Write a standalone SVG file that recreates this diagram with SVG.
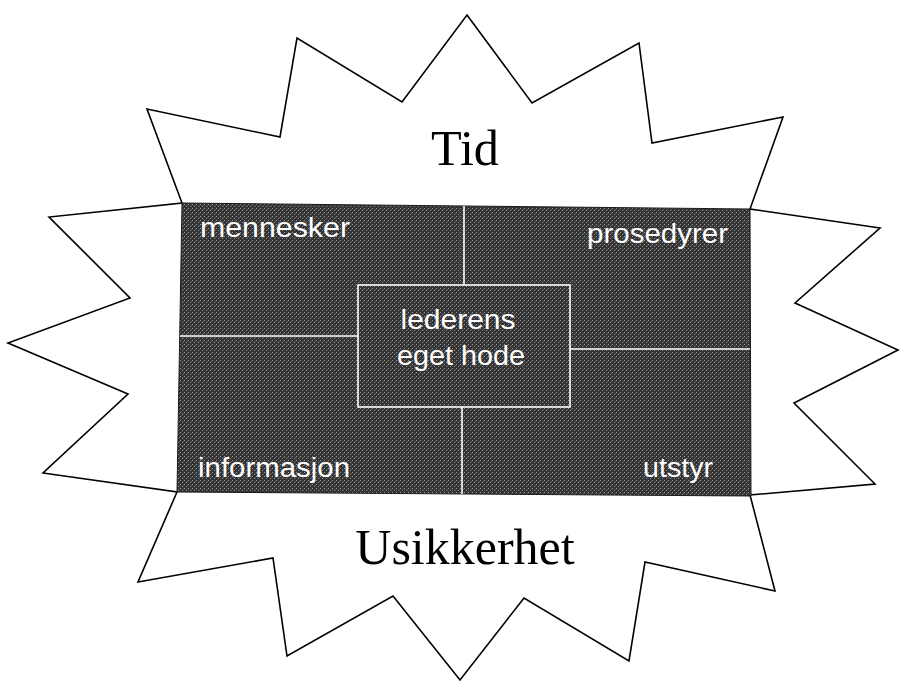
<svg xmlns="http://www.w3.org/2000/svg" width="904" height="682" viewBox="0 0 904 682">
  <defs>
    <style>
      .star { fill: #ffffff; stroke: #000000; stroke-width: 1.6; stroke-linejoin: miter; }
      .panel { fill: #3b3b3b; stroke: #1a1a1a; stroke-width: 1; }
      .div { stroke: #ffffff; stroke-width: 1.6; fill: none; }
      .lbl { font-family: "Liberation Sans", Arial, sans-serif; font-size: 27px; fill: #ffffff; }
      .big { font-family: "Liberation Serif", "Times New Roman", serif; font-size: 50px; fill: #000000; text-anchor: middle; }
    </style>
    <pattern id="grain" width="4" height="4" patternUnits="userSpaceOnUse">
      <rect width="4" height="4" fill="#343434"/>
      <rect x="0" y="0" width="1" height="1" fill="#9a9a9a"/>
      <rect x="2" y="2" width="1" height="1" fill="#8a8a8a"/>
      <rect x="3" y="1" width="1" height="1" fill="#5a5a5a"/>
    </pattern>
  </defs>

  <g id="star">
    <polygon class="star" points="467,15 532,103 639,43 652,143 783,117 750,209 880,228 795,303 898,350 794,403 875,484 750,495 775,591 645,562 629,661 524,598 460,680 393,596 287,656 273,558 138,582 177,492 43,473 128,394 8,343 130,298 49,217 182,203 147,109 280,137 297,38 402,102"/>
  </g>

  <g id="title-tid">
    <text class="big" x="465" y="165" textLength="68" lengthAdjust="spacingAndGlyphs">Tid</text>
  </g>
  <g id="title-usikkerhet">
    <text class="big" x="465" y="564">Usikkerhet</text>
  </g>

  <g id="panel">
    <polygon class="panel" points="182,203 750,209 751,496 177,492" fill="url(#grain)" style="fill:url(#grain)"/>
  </g>

  <g id="dividers">
    <line class="div" x1="464" y1="206" x2="464" y2="285"/>
    <line class="div" x1="180" y1="336" x2="358" y2="336"/>
    <line class="div" x1="570" y1="349" x2="750" y2="349"/>
    <line class="div" x1="462" y1="407" x2="462" y2="494"/>
  </g>

  <g id="center">
    <rect class="div" x="358" y="285" width="212" height="122"/>
    <text class="lbl" x="458" y="329" text-anchor="middle" textLength="115" lengthAdjust="spacingAndGlyphs">lederens</text>
    <text class="lbl" x="461" y="365" text-anchor="middle" textLength="128" lengthAdjust="spacingAndGlyphs">eget hode</text>
  </g>

  <g id="mennesker">
    <text class="lbl" x="200" y="237" textLength="150" lengthAdjust="spacingAndGlyphs">mennesker</text>
  </g>
  <g id="prosedyrer">
    <text class="lbl" x="587" y="243" textLength="141" lengthAdjust="spacingAndGlyphs">prosedyrer</text>
  </g>
  <g id="informasjon">
    <text class="lbl" x="198" y="477" textLength="152" lengthAdjust="spacingAndGlyphs">informasjon</text>
  </g>
  <g id="utstyr">
    <text class="lbl" x="643" y="477" textLength="70" lengthAdjust="spacingAndGlyphs">utstyr</text>
  </g>
</svg>
